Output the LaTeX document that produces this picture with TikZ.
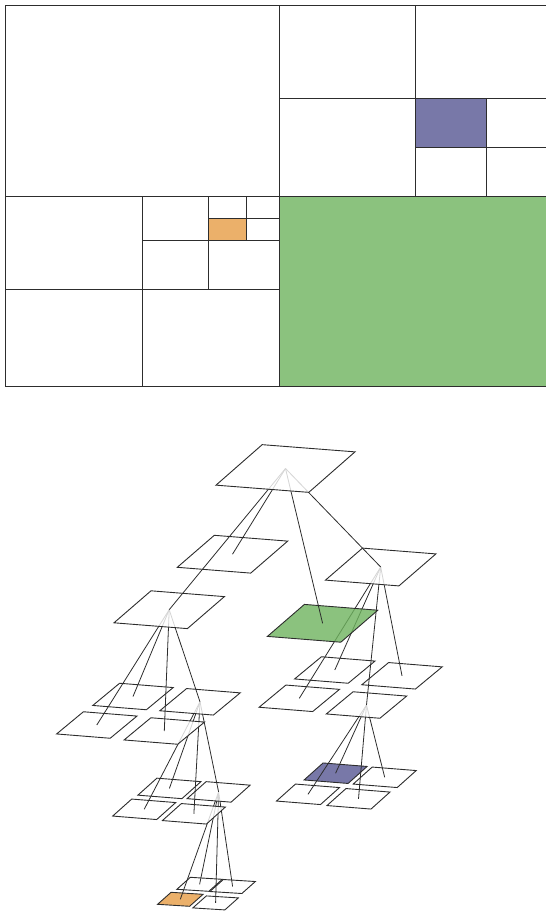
\documentclass[tikz,border=0pt]{standalone}
\usepackage{tikz}
\definecolor{leafgreen}{RGB}{139,194,126}
\definecolor{leafgreenT}{RGB}{110,179,94}
\definecolor{leafblue}{RGB}{120,120,168}
\definecolor{leaforange}{RGB}{235,176,106}
\definecolor{edgegray}{RGB}{45,45,45}

\begin{document}
\begin{tikzpicture}[x=1pt, y=-1pt,
		cell/.style={draw=edgegray, line width=1pt},
		tile/.style={draw=edgegray, line width=0.9pt, fill=white, fill opacity=0.8},
		link/.style={draw=edgegray, line width=0.8pt}]
		\def\lev#1#2#3#4{\def\tux{#1}\def\tuy{#2}\def\tvx{#3}\def\tvy{#4}}
		\def\plane#1#2{\path[#1] (#2) ++({-(\tux+\tvx)/2},{-(\tuy+\tvy)/2}) -- ++(\tux,\tuy) -- ++(\tvx,\tvy) -- ++({-\tux},{-\tuy}) -- cycle;}
		\useasboundingbox (0,0) rectangle (546,914);
		\clip (0,0) rectangle (546,914);
		% ---------------- quadtree cells ----------------
		\fill[leafgreen] (279,196.5) rectangle (552.5,386.5);
		\fill[leafblue] (415.5,98) rectangle (486.5,147);
		\fill[leaforange] (208,218) rectangle (246,240);
		\draw[cell] (5.5,5.5) rectangle (552.5,386.5);
		\draw[cell] (279,5.5) -- (279,386.5) (5.5,196.5) -- (552.5,196.5);
		% top right
		\draw[cell] (415.5,5.5) -- (415.5,196.5) (279,98) -- (552.5,98);
		\draw[cell] (486.5,98) -- (486.5,196.5) (415.5,147) -- (552.5,147);
		% bottom left
		\draw[cell] (142.5,196.5) -- (142.5,386.5) (5.5,289) -- (279,289);
		\draw[cell] (208,196.5) -- (208,289) (142.5,240) -- (279,240);
		\draw[cell] (246,196.5) -- (246,240) (208,218) -- (279,218);
		% ---------------- tree of planes ----------------
		\coordinate (r) at (285.5,468.5);
		\coordinate (tl) at (232.5,554.2);
		\coordinate (tr) at (380.7,567);
		\coordinate (bl) at (169.2,609.7);
		\coordinate (br) at (322.6,623.3);
		\coordinate (bl-tl) at (133,696.5);
		\coordinate (bl-tr) at (200,701.8);
		\coordinate (bl-bl) at (96.8,725);
		\coordinate (bl-br) at (164.3,731);
		\coordinate (tr-tl) at (334.8,670);
		\coordinate (tr-tr) at (402,675.8);
		\coordinate (tr-bl) at (299.3,698.3);
		\coordinate (tr-br) at (366.5,705);
		\coordinate (bl-tr-tl) at (169.4,788.4);
		\coordinate (bl-tr-tr) at (218.6,791.9);
		\coordinate (bl-tr-bl) at (144.2,809.3);
		\coordinate (bl-tr-br) at (193.9,813.8);
		\coordinate (tr-br-tl) at (335.6,773.2);
		\coordinate (tr-br-tr) at (384.7,777.3);
		\coordinate (tr-br-bl) at (308,794.3);
		\coordinate (tr-br-br) at (358.5,798.8);
		\coordinate (bl-tr-tr-tl) at (199.6,884.3);
		\coordinate (bl-tr-tr-tr) at (232.6,886.5);
		\coordinate (bl-tr-tr-bl) at (180.3,899.3);
		\coordinate (bl-tr-tr-br) at (215.6,902.9);
		% level 4
		\lev{32}{2}{-13.5}{12}
		\plane{tile}{bl-tr-tr-tl}
		\plane{tile}{bl-tr-tr-tr}
		\plane{tile, fill=leaforange, fill opacity=1}{bl-tr-tr-bl}
		\plane{tile}{bl-tr-tr-br}
		\foreach \q in {tl,tr,bl,br} \draw[link] (bl-tr-tr) -- (bl-tr-tr-\q);
		% level 3
		\lev{44}{3.5}{-19}{17}
		\foreach \q in {tl,tr,bl,br} {\plane{tile}{bl-tr-\q}}
		\plane{tile, fill=leafblue, fill opacity=1}{tr-br-tl}
		\foreach \q in {tr,bl,br} {\plane{tile}{tr-br-\q}}
		\foreach \q in {tl,tr,bl,br} {
			\draw[link] (bl-tr) -- (bl-tr-\q);
			\draw[link] (tr-br) -- (tr-br-\q);
		}
		% level 2
		\lev{53.6}{4.3}{-26.8}{22.2}
		\foreach \q in {tl,tr,bl,br} {\plane{tile}{bl-\q} \plane{tile}{tr-\q}}
		\foreach \q in {tl,tr,bl,br} {
			\draw[link] (bl) -- (bl-\q);
			\draw[link] (tr) -- (tr-\q);
		}
		% level 1
		\lev{73.4}{5.8}{-37}{32}
		\plane{tile}{tl}
		\plane{tile}{tr}
		\plane{tile}{bl}
		\plane{tile, fill=leafgreenT}{br}
		\foreach \q in {tl,tr,bl,br} \draw[link] (r) -- (\q);
		% level 0
		\lev{92.8}{7.2}{-46.2}{40.5}
		\plane{tile}{r}
\end{tikzpicture}
\end{document}
